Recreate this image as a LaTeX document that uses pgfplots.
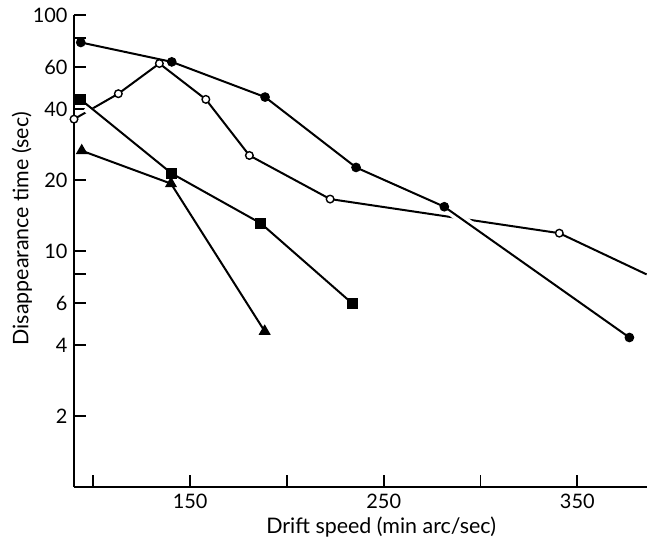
\documentclass[border=0pt]{standalone}
\usepackage{pgfplots}
\pgfplotsset{compat=1.18}
\usepackage{fontspec}
\setmainfont{Lato}

\begin{document}
\begin{tikzpicture}
\begin{axis}[
  scale only axis, width=573bp, height=472bp,
  xmin=90, xmax=386, ymode=log, ymin=1, ymax=100,
  axis lines=left, axis line style={line width=2bp, -},
  xtick={100,150,200,250,300,350}, xticklabels={,150,,250,,350},
  ytick={2,4,6,8,10,20,40,60,80,100}, yticklabels={2,4,6,,10,20,40,60,,100},
  yminorticks=false, xminorticks=false,
  tick align=inside, major tick length=12bp,
  tick style={line width=1.8bp, black},
  /pgf/number format/assume math mode=true,
  tick label style={font=\fontsize{20}{24}\selectfont},
  xticklabel style={yshift=-4bp},
  yticklabel style={xshift=-3bp},
  label style={font=\fontsize{21.5}{24}\selectfont},
  xlabel={Drift speed (min arc/sec)},
  ylabel={Disappearance time (sec)},
  xlabel style={at={(axis description cs:0.536,0)}, anchor=center, yshift=-40bp},
  ylabel style={at={(axis description cs:-0.0907,0.547)}, anchor=center},
  clip=false,
  every axis plot/.append style={line width=2bp, black},
]
\coordinate (ll) at (rel axis cs:0,0);
\coordinate (ur) at (rel axis cs:1,1);
% open circles: line (runs on to the right edge), then the marks
\addplot[no marks] coordinates {
  (90,36.2) (112.9,46.4) (134.1,62.3) (158.1,43.9) (180.6,25.4)
  (222.3,16.6) (340.7,11.9) (385.8,7.96)};
% break in the open-circle curve where the square curve crosses it
\addplot[no marks, white, line width=8bp, forget plot] coordinates {(96,40.5) (104,36)};
% filled squares
\addplot[mark=square*, mark size=4.5bp] coordinates {
  (93.5,43.8) (140.5,21.3) (186.5,13.1) (233.8,5.99)};
% filled triangles
\addplot[mark=triangle*, mark size=5bp] coordinates {
  (94.0,26.6) (140.1,19.3) (188.5,4.57)};
% break in the open-circle curve where the filled-circle curve crosses it
\addplot[no marks, white, line width=9bp, forget plot] coordinates {(281.3,15.4) (376.9,4.3)};
% filled circles
\addplot[mark=*, mark size=3.8bp] coordinates {
  (93.5,76.5) (140.5,63.3) (188.7,44.9) (235.7,22.6) (281.3,15.4) (376.9,4.3)};
% open circle marks
\addplot[only marks, mark=*, mark size=3.8bp, mark options={fill=white, line width=1.4bp}] coordinates {
  (90,36.2) (112.9,46.4) (134.1,62.3) (158.1,43.9) (180.6,25.4)
  (222.3,16.6) (340.7,11.9)};
\end{axis}
\pgfresetboundingbox
\path ([shift={(-74bp,-56bp)}]ll) rectangle ([shift={(0bp,15bp)}]ur);
\end{tikzpicture}
\end{document}
